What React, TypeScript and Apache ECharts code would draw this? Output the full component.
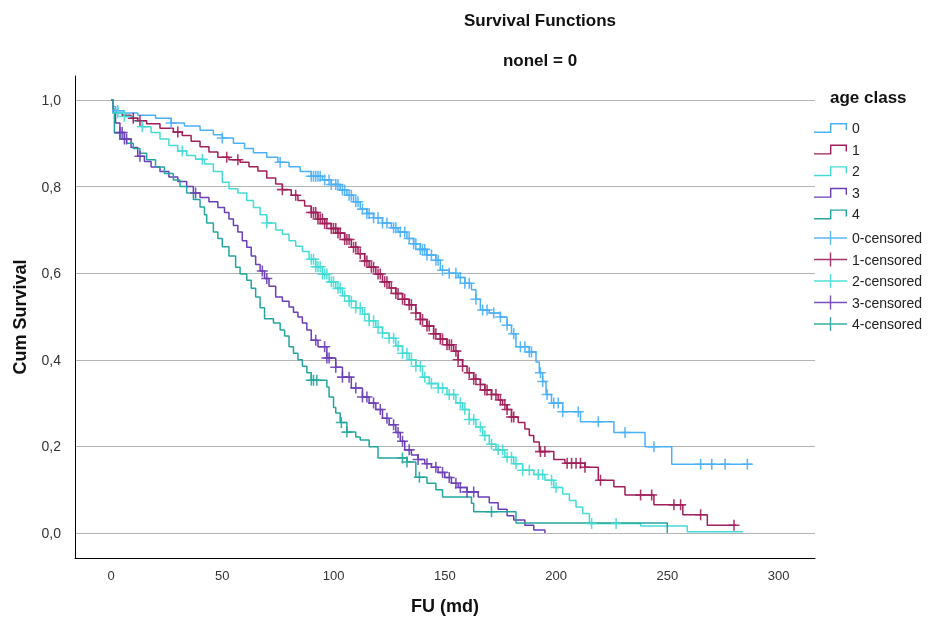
import React, { useEffect, useRef } from 'react';
import * as echarts from 'echarts';

const FONT = '"Liberation Sans", Arial, sans-serif';

const groupNames = ['0', '1', '2', '3', '4'];
const censorNames = ['0-censored', '1-censored', '2-censored', '3-censored', '4-censored'];
const groupColors = ['#4BB0F6', '#A01F5A', '#44DBD4', '#6A3EB6', '#24A69E'];

const xTicks = [0, 50, 100, 150, 200, 250, 300];
const yTicks = [0, 0.2, 0.4, 0.6, 0.8, 1.0];

// age class 0
const t0 = [0,1,2,6,12,20,27,33,40,46,50,55,60,64,70,75,80,85,90,95,99,103,106,109,112,115,118,122,126,129,133,136,139,142,146,148,152,156,159,162,164,166,170,175,178,180,182,188,191,192.5,194,195.5,198,203,211,226,240,252,288];
const s0 = [1,0.985,0.975,0.97,0.965,0.958,0.947,0.94,0.93,0.92,0.912,0.9,0.888,0.878,0.868,0.856,0.846,0.835,0.824,0.815,0.805,0.792,0.78,0.765,0.748,0.738,0.728,0.716,0.705,0.695,0.68,0.668,0.655,0.642,0.63,0.607,0.6,0.59,0.577,0.562,0.54,0.515,0.508,0.499,0.48,0.46,0.43,0.418,0.395,0.37,0.35,0.32,0.3,0.28,0.257,0.232,0.199,0.159,0.159];
const cens0 = [3,27,50,76,90,91,92,93,94,96,98,99,101,102,104,105,107,108,110,111,113,115,116,118,120,122,124,127,128,130,132,134,136,137,139,140,141,142,144,146,147,149,152,155,157,159,161,164,167,169,172,175,178,181,184,186,188,189,193,194,196,199,201,203,210,219,231,244,265,270,276,286];

// age class 1
const t1 = [0,1,2,5,9,12,16,22,28,32,36,40,44,48,53,58,62,66,70,74,77,81,84,87,90,93,96,99,102,105,108,111,114,116,119,122,125,128,131,134,137,139,142,145,148,151,154,156,158,160,163,166,168,171,174,176,178,180,183,186,188,190,192.5,199,204,213,219,226,231,244,257,268,281];
const s1 = [1,0.98,0.97,0.965,0.958,0.952,0.945,0.935,0.926,0.918,0.905,0.892,0.88,0.868,0.862,0.856,0.846,0.836,0.82,0.806,0.793,0.78,0.768,0.755,0.74,0.725,0.715,0.703,0.693,0.678,0.66,0.645,0.628,0.614,0.598,0.58,0.566,0.553,0.54,0.527,0.508,0.493,0.478,0.46,0.448,0.435,0.42,0.4,0.385,0.37,0.355,0.343,0.33,0.32,0.307,0.296,0.285,0.268,0.255,0.24,0.225,0.21,0.188,0.17,0.161,0.152,0.122,0.107,0.088,0.065,0.042,0.018,0.018];
const cens1 = [10,13,30,52,57,77,83,90,91,92,93,94,95,96,97,99,100,101,102,103,105,106,107,109,110,112,114,115,117,118,120,121,123,124,126,128,129,131,132,134,135,137,139,140,142,143,145,146,148,149,151,152,153,155,156,158,161,163,164,166,168,169,171,173,175,177,178,180,181,193,195,205,207,209,211,213,220,238,243,253,256,265,280];

// age class 2
const t2 = [0,1,2,6,10,14,18,22,26,30,34,38,42,46,50,53,57,61,64,67,70,74,77,80,83,86,89,92,95,98,101,104,107,110,113,116,119,122,125,128,131,134,137,140,143,147,151,155,158,161,164,167,170,173,177,181,185,190,195,199,203,206,209,212,215,238,259,284];
const s2 = [1,0.98,0.97,0.962,0.952,0.938,0.925,0.91,0.895,0.882,0.872,0.863,0.852,0.835,0.81,0.795,0.785,0.768,0.752,0.735,0.716,0.7,0.69,0.675,0.662,0.65,0.632,0.615,0.598,0.58,0.565,0.548,0.535,0.52,0.505,0.49,0.475,0.462,0.45,0.432,0.415,0.4,0.385,0.36,0.345,0.335,0.32,0.3,0.285,0.262,0.245,0.225,0.205,0.192,0.175,0.16,0.145,0.135,0.122,0.105,0.09,0.075,0.06,0.045,0.022,0.016,0.003,0.003];
const cens2 = [3,6,14,32,41,70,90,91,92,93,94,95,96,97,99,100,102,103,105,107,108,110,112,114,116,118,120,122,125,127,129,131,133,135,137,139,141,144,147,149,152,154,157,159,161,163,166,168,171,174,176,178,180,182,185,188,192,194,198,200,216,227];

// age class 3
const t3 = [0,1,2,4,6,9,12,15,18,22,26,30,34,37,40,44,48,51,53,55,57,59,61,63,65,67,69,71,74,77,80,82,84,86,88,90,93,97,101,104,108,113,116,119,122,125,128,130,132,135,138,141,144,147,150,153,156,160,165,170,174,178,181,186,190,195];
const s3 = [1,0.97,0.947,0.925,0.91,0.89,0.87,0.858,0.845,0.835,0.822,0.812,0.8,0.785,0.775,0.765,0.752,0.74,0.725,0.71,0.695,0.675,0.66,0.64,0.62,0.605,0.588,0.57,0.545,0.535,0.522,0.51,0.499,0.485,0.469,0.445,0.43,0.404,0.383,0.36,0.335,0.314,0.3,0.285,0.265,0.25,0.232,0.212,0.192,0.18,0.17,0.16,0.152,0.14,0.128,0.115,0.105,0.095,0.083,0.07,0.055,0.04,0.03,0.018,0.007,0];
const cens3 = [4,5,6,7,13,38,68,70,92,96,97,98,101,104,107,110,113,115,118,121,124,127,129,131,134,138,142,146,149,152,155,157,160,163];

// age class 4
const t4 = [0,1,1.5,4,7,10,13,16,20,24,28,31,34,37,40,42,43,46,48,50,53,56,58,61,63,65,67,69,73,76,78,80,82,84,86,88,90,97,98,100,101,103,106,110,112,116,120,133,137,142,146,149,162,163,182,250];
const s4 = [1,0.97,0.924,0.91,0.9,0.888,0.877,0.862,0.845,0.83,0.815,0.8,0.785,0.77,0.753,0.735,0.716,0.695,0.68,0.661,0.64,0.614,0.598,0.584,0.565,0.545,0.52,0.495,0.485,0.469,0.455,0.43,0.415,0.4,0.385,0.37,0.353,0.337,0.314,0.29,0.277,0.255,0.233,0.222,0.215,0.199,0.173,0.164,0.129,0.115,0.1,0.083,0.069,0.049,0.023,0];
const cens4 = [90,91,92.5,103.5,106,131,133,138.6,171];

const times = [t0, t1, t2, t3, t4];
const survs = [s0, s1, s2, s3, s4];
const censors = [cens0, cens1, cens2, cens3, cens4];

const PLUS = 'path://M0,4.3H4.3V0H5.7V4.3H10V5.7H5.7V10H4.3V5.7H0Z';
const STEP_ICON = 'path://M0,8.6H16V0H33V7H31.6V1.4H17.4V10H0Z';
const CENS_ICON = 'path://M0,6.3H15.8V0H17.2V6.3H33V7.7H17.2V14H15.8V7.7H0Z';

function survivalAt(ts: number[], ss: number[], t: number): number {
  let v = ss[0];
  for (let i = 0; i < ts.length; i++) {
    if (ts[i] <= t) v = ss[i];
  }
  return v;
}

export default function App() {
  const ref = useRef<HTMLDivElement>(null);
  useEffect(() => {
    const chart = echarts.init(ref.current as HTMLDivElement, null, { renderer: 'svg' });
    const lineSeries = groupNames.map((name, g) => ({
      name,
      type: 'line',
      step: 'end',
      data: times[g].map((t, i) => [t, survs[g][i]]),
      showSymbol: false,
      symbol: 'none',
      symbolKeepAspect: false,
      lineStyle: { width: 1.5, color: groupColors[g] },
      itemStyle: { color: groupColors[g] },
      silent: true,
      z: 2,
    }));
    const censSeries = censorNames.map((name, g) => ({
      name,
      type: 'scatter',
      data: censors[g].map((c) => [c, survivalAt(times[g], survs[g], c)]),
      symbol: PLUS,
      symbolSize: 11,
      symbolKeepAspect: false,
      itemStyle: { color: groupColors[g], opacity: 0.9 },
      silent: true,
      z: 3,
    }));
    const legendText = { fontSize: 14, color: '#222', fontFamily: FONT, lineHeight: 16 };
    chart.setOption({
      animation: false,
      textStyle: { fontFamily: FONT },
      grid: { left: 75, right: 122, top: 76, bottom: 68, containLabel: false },
      xAxis: {
        type: 'value',
        min: -16.2,
        max: 316.4,
        name: 'FU (md)',
        nameLocation: 'middle',
        nameGap: 39,
        nameTextStyle: { fontSize: 18, fontWeight: 'bold', color: '#111', fontFamily: FONT },
        axisLine: { show: true, onZero: false, lineStyle: { color: '#000', width: 1 } },
        axisTick: { show: false, customValues: xTicks },
        axisLabel: { customValues: xTicks, fontSize: 13, color: '#333', margin: 11, fontFamily: FONT },
        splitLine: { show: false },
      },
      yAxis: {
        type: 'value',
        min: -0.0577,
        max: 1.0554,
        name: 'Cum Survival',
        nameLocation: 'middle',
        nameGap: 46,
        nameRotate: 90,
        nameTextStyle: { fontSize: 18, fontWeight: 'bold', color: '#111', fontFamily: FONT },
        axisLine: { show: true, onZero: false, lineStyle: { color: '#000', width: 1 } },
        axisTick: { show: false, customValues: yTicks },
        axisLabel: {
          customValues: yTicks,
          fontSize: 14,
          color: '#333',
          margin: 14,
          fontFamily: FONT,
          formatter: (v: number) => v.toFixed(1).replace('.', ','),
        },
        splitLine: { show: true, lineStyle: { color: '#b3b3b3', width: 1 } },
      },
      legend: [
        {
          data: groupNames.map((n) => ({ name: n, icon: STEP_ICON })),
          orient: 'vertical',
          left: 814,
          top: 120,
          padding: 0,
          itemWidth: 33,
          itemHeight: 10,
          itemGap: 5.6,
          selectedMode: false,
          itemStyle: { borderWidth: 0 },
          textStyle: legendText,
        },
        {
          data: censorNames.map((n) => ({ name: n, icon: CENS_ICON })),
          orient: 'vertical',
          left: 814,
          top: 230,
          padding: 0,
          itemWidth: 33,
          itemHeight: 14,
          itemGap: 5.5,
          selectedMode: false,
          itemStyle: { borderWidth: 0 },
          textStyle: legendText,
        },
      ],
      graphic: [
        {
          type: 'text',
          x: 540,
          y: 20,
          style: { text: 'Survival Functions', font: `bold 17px ${FONT}`, fill: '#111', textAlign: 'center', textVerticalAlign: 'middle' },
        },
        {
          type: 'text',
          x: 540,
          y: 60,
          style: { text: 'nonel = 0', font: `bold 17px ${FONT}`, fill: '#111', textAlign: 'center', textVerticalAlign: 'middle' },
        },
        {
          type: 'text',
          x: 830,
          y: 97,
          style: { text: 'age class', font: `bold 17px ${FONT}`, fill: '#111', textAlign: 'left', textVerticalAlign: 'middle' },
        },
      ],
      series: [...lineSeries, ...censSeries],
    });
    return () => chart.dispose();
  }, []);
  return <div ref={ref} style={{ position: 'fixed', left: 0, top: 0, width: 937, height: 626 }} />;
}
